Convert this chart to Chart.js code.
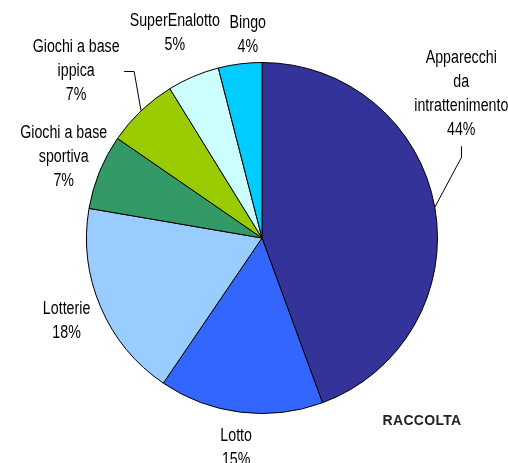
<!DOCTYPE html>
<html>
<head>
<meta charset="utf-8">
<style>
  html, body { margin: 0; padding: 0; background: #fff; }
  #wrap { width: 508px; height: 463px; position: relative; }
</style>
<script src="https://cdn.jsdelivr.net/npm/chart.js@4/dist/chart.umd.min.js"></script>
</head>
<body>
<div id="wrap"><canvas id="c" width="508" height="463"></canvas></div>
<script>
// ---- data ----
const categories = [
  ["Apparecchi", "da", "intrattenimento"],
  ["Lotto"],
  ["Lotterie"],
  ["Giochi a base", "sportiva"],
  ["Giochi a base", "ippica"],
  ["SuperEnalotto"],
  ["Bingo"]
];
const shares = [44.4, 15.1, 18.2, 6.9, 6.6, 4.8, 4.0];
const colors = ["#333399", "#3366FF", "#99CCFF", "#339966", "#99CC00", "#CCFFFF", "#00CCFF"];
const chartTitle = "RACCOLTA";

// ---- label layout (angle in degrees clockwise from top, null = slice middle; dist = radius factor) ----
const labelLayout = [
  { angle: 54.2, dist: 1.40, leader: "below" },
  { angle: null, dist: 1.205 },
  { angle: null, dist: 1.21 },
  { angle: null, dist: 1.22 },
  { angle: 312, dist: 1.425, leader: "right" },
  { angle: null, dist: 1.27 },
  { angle: 356, dist: 1.16 }
];

const LABEL_FONT = '18px "Liberation Sans", Arial, sans-serif';
const NARROW = 0.79;
const LINE_H = 24;

const labelPlugin = {
  id: "pieLabels",
  afterDraw(chart) {
    const ctx = chart.ctx;
    const meta = chart.getDatasetMeta(0);
    const total = shares.reduce((a, b) => a + b, 0);
    ctx.save();
    ctx.font = LABEL_FONT;
    ctx.fillStyle = "#000";
    ctx.textAlign = "center";
    ctx.textBaseline = "middle";
    meta.data.forEach((arc, i) => {
      const cx = arc.x, cy = arc.y, r = arc.outerRadius;
      const mid = (arc.startAngle + arc.endAngle) / 2;
      const lay = labelLayout[i];
      const ang = lay.angle === null ? mid : (lay.angle - 90) * Math.PI / 180;
      const lx = cx + Math.cos(ang) * r * lay.dist;
      const ly = cy + Math.sin(ang) * r * lay.dist;
      const lines = categories[i].concat([Math.round(shares[i] / total * 100) + "%"]);
      const y0 = ly - (lines.length - 1) * LINE_H / 2;
      ctx.save();
      ctx.translate(lx, 0);
      ctx.scale(NARROW, 1);
      lines.forEach((t, k) => ctx.fillText(t, 0, y0 + k * LINE_H));
      ctx.restore();
      if (lay.leader) {
        const px = cx + Math.cos(mid) * r;
        const py = cy + Math.sin(mid) * r;
        ctx.beginPath();
        ctx.strokeStyle = "#000";
        ctx.lineWidth = 1;
        if (lay.leader === "below") {
          const sy = y0 + (lines.length - 1) * LINE_H + 16;
          ctx.moveTo(Math.round(lx) + 0.5, sy);
          ctx.lineTo(Math.round(lx) + 0.5, sy + 11);
          ctx.lineTo(px, py);
        } else {
          const sx = lx + 48;
          const sy = Math.round(ly) + 0.5;
          ctx.moveTo(sx, sy);
          ctx.lineTo(sx + 10, sy);
          ctx.lineTo(px, py);
        }
        ctx.stroke();
      }
    });
    // title text
    ctx.font = 'bold 14px "Liberation Sans", Arial, sans-serif';
    ctx.fillStyle = "#222";
    if ("letterSpacing" in ctx) ctx.letterSpacing = "0.3px";
    ctx.fillText(chartTitle, 422, 421);
    ctx.restore();
  }
};

new Chart(document.getElementById("c"), {
  type: "pie",
  data: {
    labels: categories.map(c => c.join(" ")),
    datasets: [{
      data: shares,
      backgroundColor: colors,
      borderColor: "#000",
      borderWidth: 1
    }]
  },
  options: {
    responsive: false,
    animation: false,
    layout: { padding: { left: 86, right: 70, top: 62, bottom: 49 } },
    plugins: { legend: { display: false }, tooltip: { enabled: false } }
  },
  plugins: [labelPlugin]
});
</script>
</body>
</html>
